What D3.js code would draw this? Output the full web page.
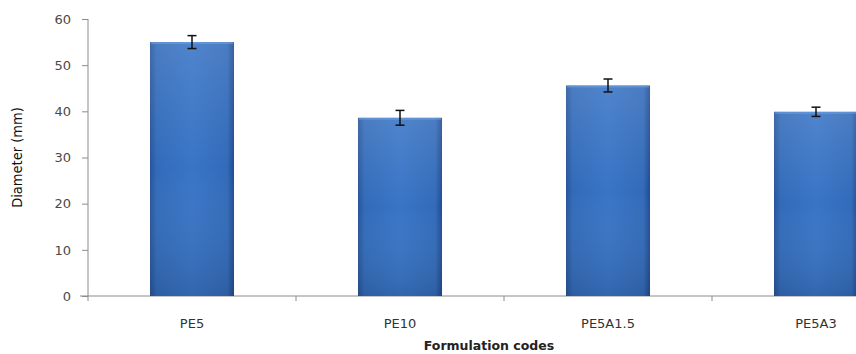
<!DOCTYPE html>
<html>
<head>
<meta charset="utf-8">
<script src="https://cdn.jsdelivr.net/npm/d3@7"></script>
<style>
  html, body { margin: 0; padding: 0; background: #fff; }
  svg { display: block; }
</style>
</head>
<body>
<svg id="chart" width="856" height="354"></svg>
<script>
// data
var categories = ["PE5", "PE10", "PE5A1.5", "PE5A3"];
var diameters = [55.0, 38.6, 45.6, 39.9];
var errors = [1.4, 1.6, 1.4, 1.0];
var yTicks = [0, 10, 20, 30, 40, 50, 60];

var svg = d3.select("#chart");
var plotLeft = 88, plotTop = 19, plotBottom = 296;

var x = d3.scaleBand()
    .domain(categories)
    .range([plotLeft, plotLeft + 832])
    .paddingInner(0.596)
    .paddingOuter(0.298);

var y = d3.scaleLinear().domain([0, 60]).range([plotBottom, plotTop]);

// bar gradient, darker at the edges
var defs = svg.append("defs");
var grad = defs.append("linearGradient").attr("id", "barGrad")
    .attr("x1", "0%").attr("x2", "100%").attr("y1", "0%").attr("y2", "0%");
grad.append("stop").attr("offset", "0%").attr("stop-color", "#27549a");
grad.append("stop").attr("offset", "8%").attr("stop-color", "#326bb9");
grad.append("stop").attr("offset", "50%").attr("stop-color", "#3874c6");
grad.append("stop").attr("offset", "92%").attr("stop-color", "#326bb9");
grad.append("stop").attr("offset", "100%").attr("stop-color", "#214b92");

var vgrad = defs.append("linearGradient").attr("id", "barShade")
    .attr("x1", "0%").attr("x2", "0%").attr("y1", "0%").attr("y2", "100%");
vgrad.append("stop").attr("offset", "0%").attr("stop-color", "#ffffff").attr("stop-opacity", 0.12);
vgrad.append("stop").attr("offset", "50%").attr("stop-color", "#ffffff").attr("stop-opacity", 0.0);
vgrad.append("stop").attr("offset", "100%").attr("stop-color", "#000000").attr("stop-opacity", 0.12);

// y axis
var yAxis = d3.axisLeft(y).tickValues(yTicks).tickSize(6).tickPadding(11);
var gy = svg.append("g").attr("transform", "translate(" + plotLeft + ",0)").call(yAxis);
gy.select(".domain").attr("stroke", "#8c8c8c").attr("d", "M0," + plotTop + "V" + plotBottom);
gy.selectAll(".tick line").attr("stroke", "#8c8c8c");
gy.selectAll(".tick text")
    .attr("fill", "#4a4a4a")
    .style("font-family", "Verdana, 'DejaVu Sans', sans-serif")
    .style("font-size", "13px");

// x axis
var gx = svg.append("g").attr("transform", "translate(0," + plotBottom + ")");
gx.append("line").attr("x1", 80).attr("x2", 856).attr("y1", 0).attr("y2", 0)
    .attr("stroke", "#8c8c8c");
gx.selectAll(".sep").data(categories).enter().append("line")
    .attr("class", "sep")
    .attr("x1", function (d) { return x(d) - x.step() * x.paddingInner() / 2; })
    .attr("x2", function (d) { return x(d) - x.step() * x.paddingInner() / 2; })
    .attr("y1", 0).attr("y2", 5)
    .attr("stroke", "#8c8c8c");
gx.selectAll(".lab").data(categories).enter().append("text")
    .attr("class", "lab")
    .attr("x", function (d) { return x(d) + x.bandwidth() / 2; })
    .attr("y", 32)
    .attr("text-anchor", "middle")
    .attr("fill", "#333")
    .style("font-family", "Verdana, 'DejaVu Sans', sans-serif")
    .style("font-size", "13px")
    .text(function (d) { return d; });

// bars
var bars = svg.append("g");
bars.selectAll(".bar").data(categories).enter().append("rect")
    .attr("class", "bar")
    .attr("x", function (d) { return x(d); })
    .attr("width", x.bandwidth())
    .attr("y", function (d, i) { return y(diameters[i]); })
    .attr("height", function (d, i) { return plotBottom - y(diameters[i]); })
    .attr("fill", "url(#barGrad)");
bars.selectAll(".shade").data(categories).enter().append("rect")
    .attr("class", "shade")
    .attr("x", function (d) { return x(d); })
    .attr("width", x.bandwidth())
    .attr("y", function (d, i) { return y(diameters[i]); })
    .attr("height", function (d, i) { return plotBottom - y(diameters[i]); })
    .attr("fill", "url(#barShade)");
bars.selectAll(".hi").data(categories).enter().append("rect")
    .attr("class", "hi")
    .attr("x", function (d) { return x(d) + 1; })
    .attr("width", x.bandwidth() - 2)
    .attr("y", function (d, i) { return y(diameters[i]); })
    .attr("height", 2)
    .attr("fill", "#6c9fe0").attr("opacity", 0.6);

// error bars
var eb = svg.append("g").attr("stroke", "#111").attr("stroke-width", 1.5);
categories.forEach(function (c, i) {
    var cx = x(c) + x.bandwidth() / 2;
    var hi = y(diameters[i] + errors[i]), lo = y(diameters[i] - errors[i]);
    eb.append("line").attr("x1", cx).attr("x2", cx).attr("y1", hi).attr("y2", lo);
    eb.append("line").attr("x1", cx - 4.5).attr("x2", cx + 4.5).attr("y1", hi).attr("y2", hi);
    eb.append("line").attr("x1", cx - 4.5).attr("x2", cx + 4.5).attr("y1", lo).attr("y2", lo);
});

// titles
svg.append("text")
    .attr("transform", "translate(22," + ((plotTop + plotBottom) / 2) + ") rotate(-90)")
    .attr("text-anchor", "middle")
    .attr("fill", "#111")
    .style("font-family", "'DejaVu Sans Condensed', 'Liberation Sans Narrow', sans-serif")
    .style("font-stretch", "condensed")
    .style("font-size", "14.5px")
    .text("Diameter (mm)");

svg.append("text")
    .attr("x", 489).attr("y", 350)
    .attr("text-anchor", "middle")
    .attr("fill", "#222")
    .style("font-family", "Verdana, 'DejaVu Sans', sans-serif")
    .style("font-size", "12.5px")
    .style("font-weight", "bold")
    .text("Formulation codes");
</script>
</body>
</html>
